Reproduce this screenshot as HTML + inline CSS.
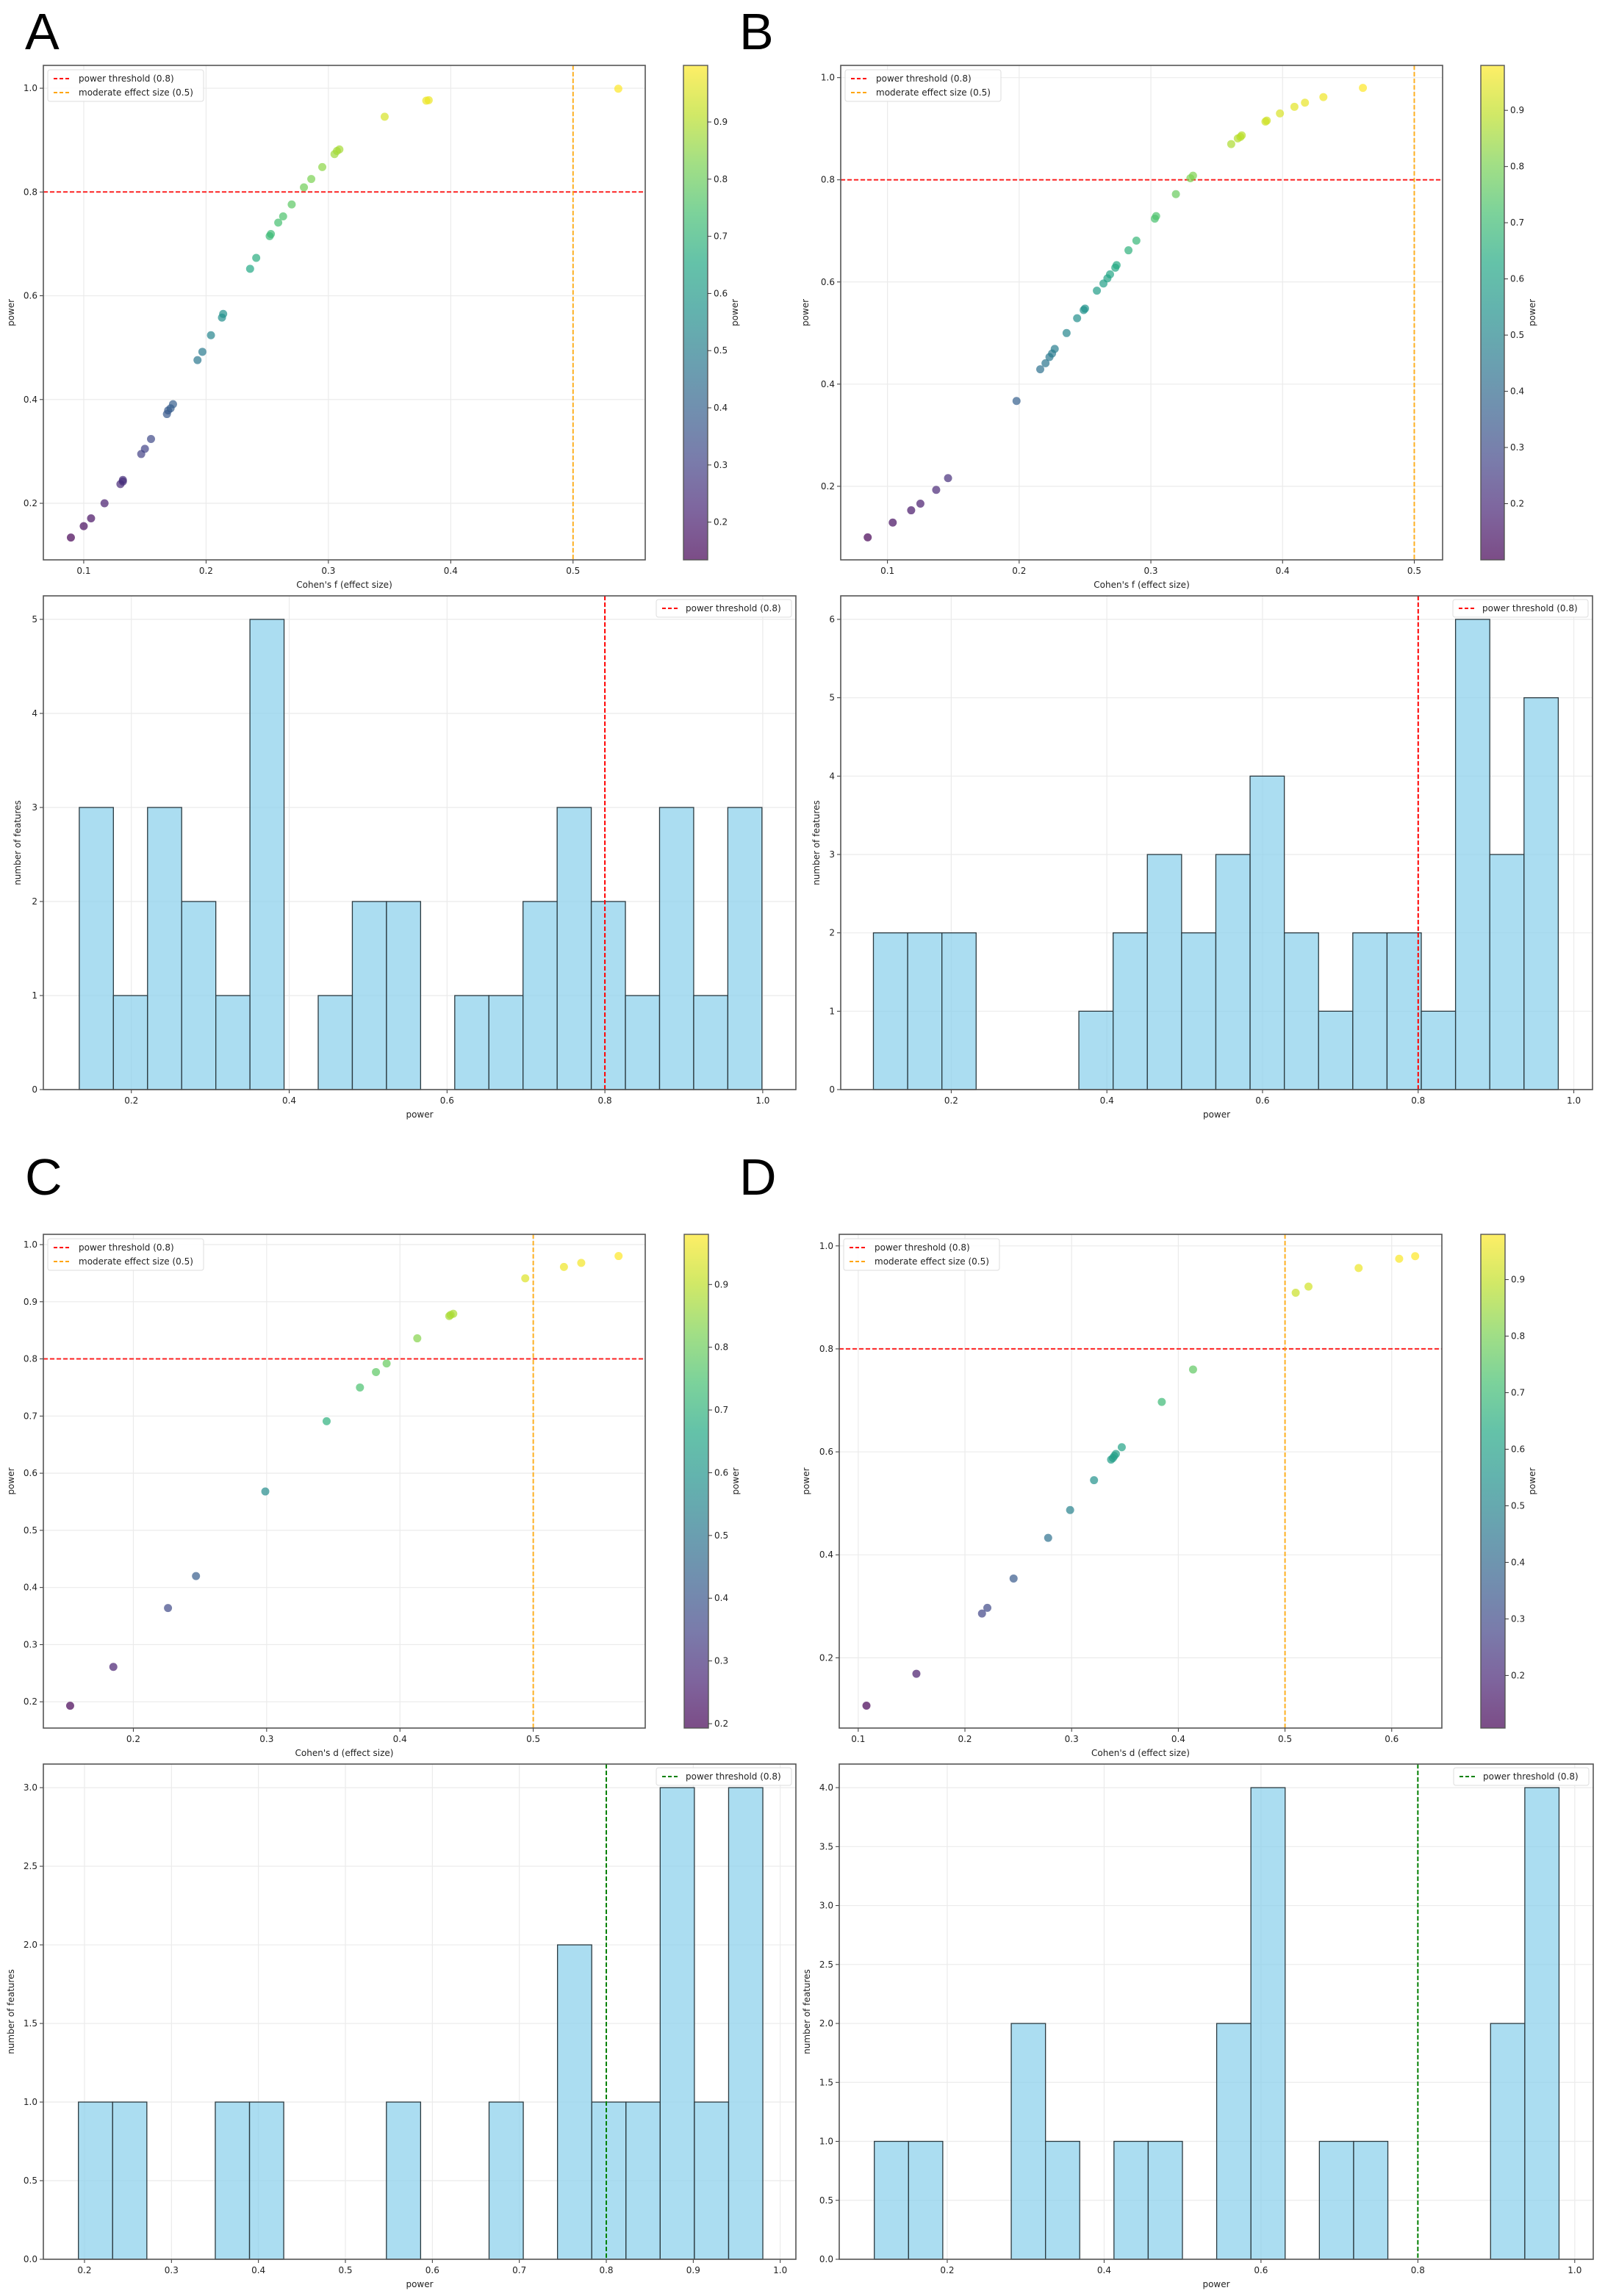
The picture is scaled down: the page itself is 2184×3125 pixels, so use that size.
<!DOCTYPE html>
<html><head><meta charset="utf-8">
<style>
html,body{margin:0;padding:0;background:#fff;}
svg{display:block;font-family:"DejaVu Sans","Liberation Sans",sans-serif;}
</style></head>
<body>
<svg id="fig" width="2184" height="3125" viewBox="0 0 2184 3125" xmlns="http://www.w3.org/2000/svg">
<defs>
<linearGradient id="viridis" x1="0" y1="1" x2="0" y2="0">
<stop offset="0" stop-color="#440154"/><stop offset="0.1" stop-color="#482475"/><stop offset="0.2" stop-color="#414487"/><stop offset="0.3" stop-color="#355f8d"/><stop offset="0.4" stop-color="#2a788e"/><stop offset="0.5" stop-color="#21918c"/><stop offset="0.6" stop-color="#22a884"/><stop offset="0.7" stop-color="#44bf70"/><stop offset="0.8" stop-color="#7ad151"/><stop offset="0.9" stop-color="#bddf26"/><stop offset="1" stop-color="#fde725"/>
</linearGradient>
</defs>
<text x="34" y="67" font-family="Liberation Sans, sans-serif" font-size="70">A</text>
<text x="1006" y="67" font-family="Liberation Sans, sans-serif" font-size="70">B</text>
<text x="34" y="1626" font-family="Liberation Sans, sans-serif" font-size="70">C</text>
<text x="1006" y="1626" font-family="Liberation Sans, sans-serif" font-size="70">D</text>
</svg>
<script>
// ---- Panel A data ----
const A_effect = [0.0895,0.100,0.106,0.117,0.130,0.132,0.132,0.147,0.150,0.155,0.168,0.169,0.171,0.173,0.193,0.197,0.204,0.213,0.214,0.236,0.241,0.252,0.253,0.259,0.263,0.270,0.280,0.286,0.295,0.305,0.307,0.309,0.346,0.380,0.382,0.537];
const A_power = [0.134,0.156,0.171,0.200,0.237,0.242,0.245,0.295,0.305,0.324,0.372,0.379,0.383,0.391,0.476,0.492,0.524,0.558,0.565,0.652,0.673,0.715,0.719,0.741,0.753,0.776,0.809,0.825,0.848,0.873,0.879,0.882,0.945,0.976,0.977,0.999];
const A_histCounts = [3,1,3,2,1,5,0,1,2,2,0,1,1,2,3,2,1,3,1,3];
const A_binRange = [0.134,0.999];
// ---- Panel B data ----
const B_effect = [0.085,0.104,0.118,0.125,0.137,0.146,0.198,0.216,0.220,0.223,0.225,0.227,0.236,0.244,0.249,0.250,0.259,0.264,0.267,0.269,0.273,0.274,0.283,0.289,0.303,0.304,0.319,0.330,0.332,0.361,0.366,0.368,0.369,0.387,0.388,0.398,0.409,0.417,0.431,0.461];
const B_power = [0.100,0.129,0.153,0.166,0.193,0.216,0.367,0.429,0.441,0.453,0.460,0.469,0.500,0.529,0.545,0.548,0.583,0.597,0.607,0.615,0.628,0.633,0.662,0.681,0.724,0.729,0.772,0.803,0.808,0.870,0.881,0.884,0.887,0.914,0.916,0.930,0.943,0.951,0.962,0.980];
const B_histCounts = [2,2,2,0,0,0,1,2,3,2,3,4,2,1,2,2,1,6,3,5];
const B_binRange = [0.100,0.980];
// ---- Panel C data ----
const C_effect = [0.1526,0.185,0.226,0.247,0.299,0.345,0.370,0.382,0.390,0.413,0.437,0.438,0.440,0.494,0.523,0.536,0.564];
const C_power = [0.193,0.261,0.364,0.420,0.568,0.691,0.750,0.777,0.792,0.836,0.875,0.877,0.879,0.941,0.961,0.968,0.980];
const C_histCounts = [1,1,0,0,1,1,0,0,0,1,0,0,1,0,2,1,1,3,1,3];
const C_binRange = [0.193,0.980];
// ---- Panel D data ----
const D_effect = [0.1077,0.1545,0.216,0.221,0.2456,0.278,0.2986,0.321,0.337,0.3387,0.340,0.3415,0.347,0.3845,0.4138,0.510,0.522,0.569,0.607,0.622];
const D_power = [0.107,0.169,0.286,0.297,0.354,0.433,0.487,0.545,0.585,0.588,0.592,0.596,0.609,0.697,0.760,0.909,0.921,0.957,0.975,0.980];
const D_histCounts = [1,1,0,0,2,1,0,1,1,0,2,4,0,1,1,0,0,0,2,4];
const D_binRange = [0.107,0.980];
// ---- tick labels ----
const A_xTicks = [0.1,0.2,0.3,0.4,0.5];
const A_yTicks = [0.2,0.4,0.6,0.8,1.0];
const B_xTicks = [0.1,0.2,0.3,0.4,0.5];
const B_yTicks = [0.2,0.4,0.6,0.8,1.0];
const C_xTicks = [0.2,0.3,0.4,0.5];
const C_yTicks = [0.2,0.3,0.4,0.5,0.6,0.7,0.8,0.9,1.0];
const D_xTicks = [0.1,0.2,0.3,0.4,0.5,0.6];
const D_yTicks = [0.2,0.4,0.6,0.8,1.0];
const cbarTicks = [0.2,0.3,0.4,0.5,0.6,0.7,0.8,0.9];
const histXTicksAB = [0.2,0.4,0.6,0.8,1.0];
const histXTicksC = [0.2,0.3,0.4,0.5,0.6,0.7,0.8,0.9,1.0];
const histXTicksD = [0.2,0.4,0.6,0.8,1.0];
const A_histYTicks = [0,1,2,3,4,5];
const B_histYTicks = [0,1,2,3,4,5,6];
const C_histYTicks = [0,0.5,1,1.5,2,2.5,3];
const D_histYTicks = [0,0.5,1,1.5,2,2.5,3,3.5,4];

const NS = "http://www.w3.org/2000/svg";
const svg = document.getElementById('fig');
function mk(tag, attrs, parent){
  const e = document.createElementNS(NS, tag);
  for (const k in attrs) e.setAttribute(k, attrs[k]);
  (parent || svg).appendChild(e);
  return e;
}
const VIR = [[68,1,84],[72,36,117],[65,68,135],[53,95,141],[42,120,142],[33,145,140],[34,168,132],[68,191,112],[122,209,81],[189,223,38],[253,231,37]];
function viridis(t){
  t = Math.max(0, Math.min(1, t));
  const p = t * 10, i = Math.min(9, Math.floor(p)), f = p - i;
  const a = VIR[i], b = VIR[i+1];
  return 'rgb(' + [0,1,2].map(k => Math.round(a[k] + (b[k]-a[k]) * f)).join(',') + ')';
}
function lin(d0, d1, r0, r1){ return v => r0 + (v - d0) / (d1 - d0) * (r1 - r0); }

function frame(g, box, xs, ys, xTicks, yTicks, xfmt, yfmt, xlabel, ylabel, ylabelX){
  for (const t of xTicks){
    const l = mk('line', {x1: xs(t), x2: xs(t), y1: box.y0, y2: box.y1, stroke: '#ebebeb', 'stroke-width': 1.2}, g);
    
    
    const tk = mk('line', {x1: xs(t), x2: xs(t), y1: box.y1, y2: box.y1 + 5, stroke: '#333', 'stroke-width': 1}, g);
    
    
    const tx = mk('text', {x: xs(t), y: box.y1 + 19, 'font-size': 12, 'text-anchor': 'middle', fill: '#222'}, g);
    tx.textContent = xfmt(t);
    
    
  }
  for (const t of yTicks){
    const l = mk('line', {x1: box.x0, x2: box.x1, y1: ys(t), y2: ys(t), stroke: '#ebebeb', 'stroke-width': 1.2}, g);
    
    
    const tk = mk('line', {x1: box.x0 - 5, x2: box.x0, y1: ys(t), y2: ys(t), stroke: '#333', 'stroke-width': 1}, g);
    
    
    const tx = mk('text', {x: box.x0 - 8, y: ys(t) + 4, 'font-size': 12, 'text-anchor': 'end', fill: '#222'}, g);
    tx.textContent = yfmt(t);
    
    
  }
  const xl = mk('text', {x: (box.x0 + box.x1) / 2, y: box.y1 + 38, 'font-size': 12, 'text-anchor': 'middle', fill: '#222'}, g);
  xl.textContent = xlabel;
  
  
  const yc = (box.y0 + box.y1) / 2;
  const yl = mk('text', {x: ylabelX, y: yc, 'font-size': 12, 'text-anchor': 'middle', fill: '#222', transform: 'rotate(-90 ' + ylabelX + ' ' + yc + ')'}, g);
  yl.textContent = ylabel;
  
  
}
function border(g, box){
  const r = mk('rect', {x: box.x0, y: box.y0, width: box.x1 - box.x0, height: box.y1 - box.y0, fill: 'none', stroke: '#555', 'stroke-width': 1.6}, g);
  
  
}
const f1 = v => v.toFixed(1);
const f0 = v => String(Math.round(v));

function scatterPanel(id, box, xlim, ylim, xv, yv, xTicks, yTicks, xlabel, cbox, ylabelX, cbLabelX){
  const g = mk('g', {});
  
  
  const xs = lin(xlim[0], xlim[1], box.x0, box.x1);
  const ys = lin(ylim[0], ylim[1], box.y1, box.y0);
  frame(g, box, xs, ys, xTicks, yTicks, f1, f1, xlabel, 'power', ylabelX);
  const hl = mk('line', {x1: box.x0, x2: box.x1, y1: ys(0.8), y2: ys(0.8), stroke: '#ff0000', 'stroke-width': 2, 'stroke-dasharray': '6,3', opacity: 0.85}, g);
  
  
  const vl = mk('line', {x1: xs(0.5), x2: xs(0.5), y1: box.y0, y2: box.y1, stroke: '#ffa500', 'stroke-width': 2, 'stroke-dasharray': '6,3', opacity: 0.85}, g);
  
  
  const cmin = Math.min(...yv), cmax = Math.max(...yv);
  for (let i = 0; i < xv.length; i++){
    const c = mk('circle', {cx: xs(xv[i]), cy: ys(yv[i]), r: 5.5, fill: viridis((yv[i] - cmin) / (cmax - cmin)), 'fill-opacity': 0.7}, g);
    
    
  }
  border(g, box);
  const lx = box.x0 + 6, ly = box.y0 + 6;
  const lg = mk('g', {}, g);
  
  
  mk('rect', {x: lx, y: ly, width: 212, height: 43, fill: '#fff', 'fill-opacity': 0.85, stroke: '#ddd', rx: 3}, lg);
  const e1 = mk('line', {x1: lx + 8, x2: lx + 30, y1: ly + 12, y2: ly + 12, stroke: '#ff0000', 'stroke-width': 2, 'stroke-dasharray': '5,3'}, lg);
  
  
  const t1 = mk('text', {x: lx + 42, y: ly + 16, 'font-size': 12, fill: '#222'}, lg);
  t1.textContent = 'power threshold (0.8)';
  
  
  const e2 = mk('line', {x1: lx + 8, x2: lx + 30, y1: ly + 31, y2: ly + 31, stroke: '#ffa500', 'stroke-width': 2, 'stroke-dasharray': '5,3'}, lg);
  
  
  const t2 = mk('text', {x: lx + 42, y: ly + 35, 'font-size': 12, fill: '#222'}, lg);
  t2.textContent = 'moderate effect size (0.5)';
  
  
  const cb = mk('rect', {x: cbox.x0, y: box.y0, width: cbox.x1 - cbox.x0, height: box.y1 - box.y0, fill: 'url(#viridis)', 'fill-opacity': 0.7, stroke: '#555', 'stroke-width': 1.4}, g);
  
  
  const cs = lin(cmin, cmax, box.y1, box.y0);
  for (const t of cbarTicks){
    if (t < cmin || t > cmax) continue;
    const tk = mk('line', {x1: cbox.x1, x2: cbox.x1 + 5, y1: cs(t), y2: cs(t), stroke: '#333'}, g);
    
    
    const tt = mk('text', {x: cbox.x1 + 8, y: cs(t) + 4, 'font-size': 12, fill: '#222'}, g);
    tt.textContent = f1(t);
    
    
  }
  const yc = (box.y0 + box.y1) / 2;
  const cl = mk('text', {x: cbLabelX, y: yc, 'font-size': 12, 'text-anchor': 'middle', fill: '#222', transform: 'rotate(-90 ' + cbLabelX + ' ' + yc + ')'}, g);
  cl.textContent = 'power';
  
  
}

function histPanel(id, box, xlim, ylim, counts, range, xTicks, yTicks, yfmt, lineColor, ylabelX){
  const g = mk('g', {});
  
  
  const xs = lin(xlim[0], xlim[1], box.x0, box.x1);
  const ys = lin(ylim[0], ylim[1], box.y1, box.y0);
  frame(g, box, xs, ys, xTicks, yTicks, f1, yfmt, 'power', 'number of features', ylabelX);
  const w = (range[1] - range[0]) / counts.length;
  for (let i = 0; i < counts.length; i++){
    if (counts[i] <= 0) continue;
    const a = xs(range[0] + i * w), b = xs(range[0] + (i + 1) * w);
    const r = mk('rect', {x: a, y: ys(counts[i]), width: b - a, height: ys(0) - ys(counts[i]), fill: '#87ceeb', 'fill-opacity': 0.7, stroke: '#2b3a40', 'stroke-width': 1.3}, g);
    
    
  }
  const vl = mk('line', {x1: xs(0.8), x2: xs(0.8), y1: box.y0, y2: box.y1, stroke: lineColor, 'stroke-width': 2, 'stroke-dasharray': '6,3'}, g);
  
  
  border(g, box);
  const lx = box.x1 - 190, ly = box.y0 + 5;
  const lg = mk('g', {}, g);
  
  
  mk('rect', {x: lx, y: ly, width: 184, height: 24, fill: '#fff', 'fill-opacity': 0.85, stroke: '#ddd', rx: 3}, lg);
  const e1 = mk('line', {x1: lx + 8, x2: lx + 30, y1: ly + 12, y2: ly + 12, stroke: lineColor, 'stroke-width': 2, 'stroke-dasharray': '5,3'}, lg);
  
  
  const t1 = mk('text', {x: lx + 40, y: ly + 16, 'font-size': 12, fill: '#222'}, lg);
  t1.textContent = 'power threshold (0.8)';
  
  
}

scatterPanel('a', {x0: 59, x1: 878, y0: 89, y1: 762}, [0.067, 0.559], [0.091, 1.044], A_effect, A_power, A_xTicks, A_yTicks, "Cohen's f (effect size)", {x0: 930, x1: 963}, 19, 1004);
scatterPanel('b', {x0: 1144, x1: 1963, y0: 89, y1: 762}, [0.0645, 0.5215], [0.056, 1.024], B_effect, B_power, B_xTicks, B_yTicks, "Cohen's f (effect size)", {x0: 2015, x1: 2047}, 1100, 2089);
scatterPanel('c', {x0: 59, x1: 878, y0: 1680, y1: 2352}, [0.1325, 0.584], [0.154, 1.018], C_effect, C_power, C_xTicks, C_yTicks, "Cohen's d (effect size)", {x0: 931, x1: 964}, 19, 1005);
scatterPanel('d', {x0: 1142, x1: 1962, y0: 1680, y1: 2352}, [0.0822, 0.647], [0.0635, 1.0225], D_effect, D_power, D_xTicks, D_yTicks, "Cohen's d (effect size)", {x0: 2015, x1: 2048}, 1101, 2089);

histPanel('a', {x0: 59, x1: 1083, y0: 811, y1: 1483}, [0.0885, 1.042], [0, 5.25], A_histCounts, A_binRange, histXTicksAB, A_histYTicks, f0, '#ff0000', 28);
histPanel('b', {x0: 1144, x1: 2167, y0: 811, y1: 1483}, [0.058, 1.024], [0, 6.3], B_histCounts, B_binRange, histXTicksAB, B_histYTicks, f0, '#ff0000', 1115);
histPanel('c', {x0: 59, x1: 1083, y0: 2401, y1: 3075}, [0.1527, 1.018], [0, 3.15], C_histCounts, C_binRange, histXTicksC, C_histYTicks, f1, '#008000', 19);
histPanel('d', {x0: 1142, x1: 2168, y0: 2401, y1: 3075}, [0.0623, 1.0236], [0, 4.2], D_histCounts, D_binRange, histXTicksD, D_histYTicks, f1, '#008000', 1102);
</script>
</body></html>
